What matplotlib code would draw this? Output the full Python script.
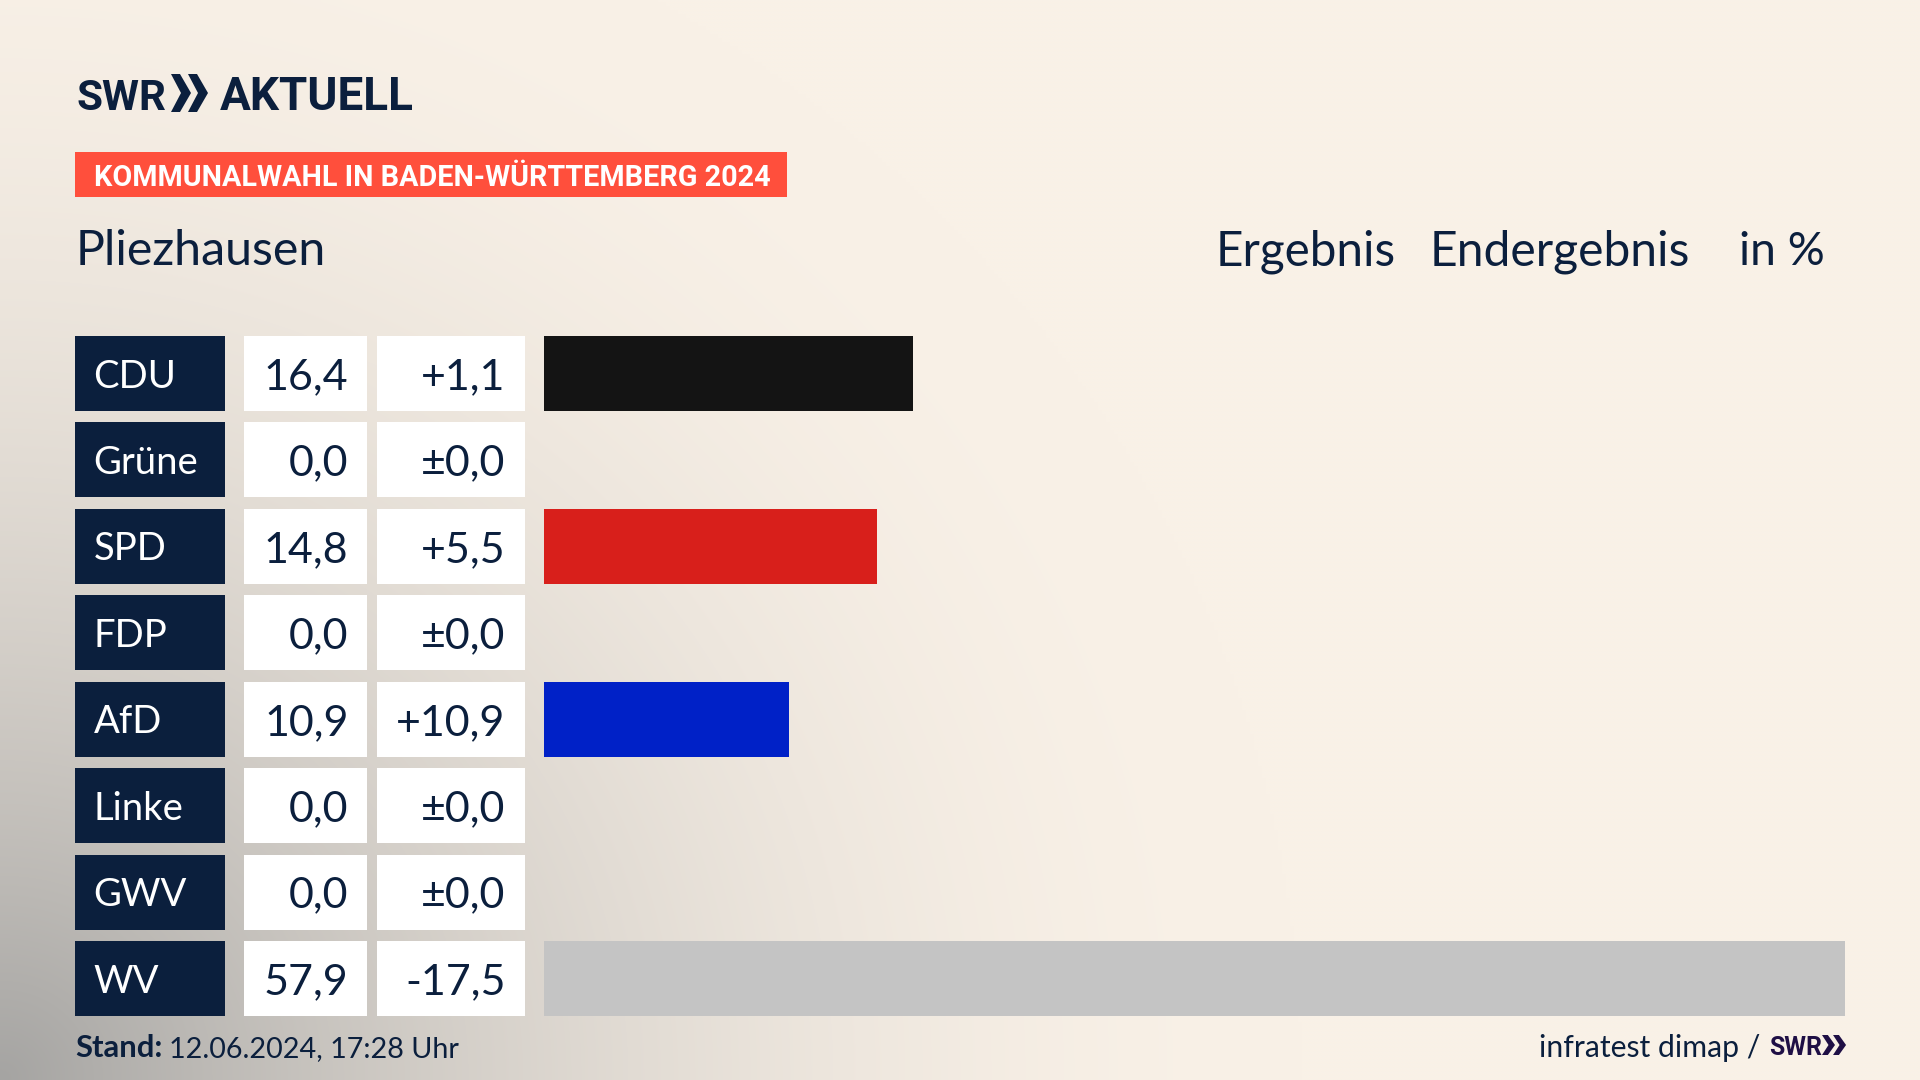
import numpy as np
import matplotlib
matplotlib.use("Agg")
import matplotlib.pyplot as plt
from matplotlib.patches import Polygon

parties = ["CDU", "Grüne", "SPD", "FDP", "AfD", "Linke", "GWV", "WV"]
results = [16.4, 0.0, 14.8, 0.0, 10.9, 0.0, 0.0, 57.9]
result_labels = ["16,4", "0,0", "14,8", "0,0", "10,9", "0,0", "0,0", "57,9"]
change_labels = ["+1,1", "±0,0", "+5,5", "±0,0", "+10,9", "±0,0", "±0,0", "-17,5"]
bar_colors = ["#141414", "#1e9632", "#d81f1b", "#f5d20a", "#0021c7", "#b4145a", "#888888", "#c4c4c4"]

NAVY = "#0b1f3d"
W, H = 1920, 1080
ROW_TOP, ROW_H, ROW_PITCH = 336, 75, 86.43
FONT = "Lato"

fig = plt.figure(figsize=(19.2, 10.8), dpi=100)
ax = fig.add_axes([0, 0, 1, 1])
ax.set_xlim(0, W)
ax.set_ylim(H, 0)
ax.axis("off")
renderer = fig.canvas.get_renderer()


def fit(x0, x1, y, s, color=NAVY, family=FONT, weight="normal", va="baseline", size=30):
    """Text starting at x0 whose font size is chosen so that it ends at x1."""
    t = ax.text(x0, y, s, color=color, fontsize=size, family=family, weight=weight, va=va, zorder=3)
    t.set_fontsize(size * (x1 - x0) / t.get_window_extent(renderer).width)
    return t


# background wash
yy, xx = np.mgrid[0:H:270j, 0:W:480j]
r = np.sqrt((xx / 1300) ** 2 + ((H - yy) / 1250) ** 2)
wash = np.clip(1 - r, 0, 1) ** 1.9
cream = np.array([249, 241, 231]) / 255
grey = np.array([165, 164, 162]) / 255
img = cream[None, None, :] * (1 - wash[..., None]) + grey[None, None, :] * wash[..., None]
ax.imshow(img, extent=[0, W, H, 0], aspect="auto", zorder=0, interpolation="bilinear")
ax.set_xlim(0, W)
ax.set_ylim(H, 0)

centers = [ROW_TOP + ROW_H / 2 + i * ROW_PITCH for i in range(len(parties))]

# table cells
ax.barh(centers, [150] * 8, left=75, height=ROW_H, color=NAVY, zorder=2)
ax.barh(centers, [123] * 8, left=244, height=ROW_H, color="white", zorder=2)
ax.barh(centers, [148] * 8, left=377, height=ROW_H, color="white", zorder=2)

for y, name, val, chg in zip(centers, parties, result_labels, change_labels):
    ax.text(93.5, y - 0.5, name, color="white", fontsize=27.5, family=FONT, va="center_baseline", zorder=3)
    ax.text(348.5, y, val, color=NAVY, fontsize=31, family=FONT, ha="right", va="center_baseline", zorder=3)
    ax.text(505.5, y, chg, color=NAVY, fontsize=31, family=FONT, ha="right", va="center_baseline", zorder=3)

# result bars
bar_ax = fig.add_axes([544 / W, 1 - (centers[-1] + ROW_PITCH / 2) / H, (1845 - 544) / W, ROW_PITCH * 8 / H])
bar_ax.patch.set_alpha(0)
bar_ax.axis("off")
bar_ax.set_xlim(0, 57.9)
bar_ax.set_ylim(7.5, -0.5)
bar_ax.barh(range(8), results, height=ROW_H / ROW_PITCH, color=bar_colors)

# logo
fit(76, 166, 110, "SWR", family="Roboto", weight="bold")
fit(220, 414, 110, "AKTUELL", family="Roboto", weight="bold")


def chevrons(x0, y0, w, h, color):
    t = 0.5 * w
    for off in (0, 0.85 * w):
        pts = [(x0 + off, y0), (x0 + off + t * 0.9, y0), (x0 + off + w, y0 + h / 2),
               (x0 + off + t * 0.9, y0 + h), (x0 + off, y0 + h), (x0 + off + t, y0 + h / 2)]
        ax.add_patch(Polygon(pts, closed=True, color=color, lw=0, zorder=3))


chevrons(171, 74, 20, 38, NAVY)

# banner
ax.barh([174.5], [712], left=75, height=45, color="#ff4f3c", zorder=2)
fit(94, 767, 174.5, "KOMMUNALWAHL IN BADEN-WÜRTTEMBERG 2024", color="white", family="Roboto",
    weight="bold", va="center_baseline")

# headings
for x0, x1, s in [(76, 327, "Pliezhausen"), (1216, 1396, "Ergebnis"),
                  (1430, 1690, "Endergebnis"), (1739, 1825, "in %")]:
    fit(x0, x1, 265, s)

# footer
fit(75, 162, 1057, "Stand:", weight="bold")
fit(169, 458, 1057, "12.06.2024, 17:28 Uhr")
fit(1539, 1760, 1057, "infratest dimap /")
fit(1769, 1822, 1055, "SWR", color="#1f0f45", family="Roboto", weight="bold")
chevrons(1822, 1035, 13, 20, "#1f0f45")

fig.savefig("out.png", dpi=100)
